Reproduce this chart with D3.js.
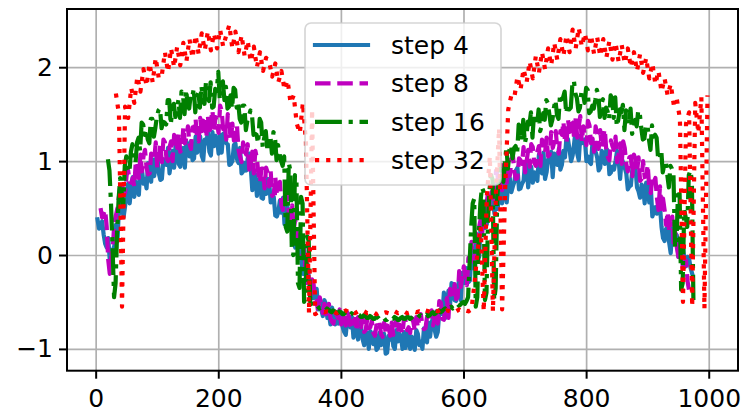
<!DOCTYPE html>
<html>
<head>
<meta charset="utf-8">
<script src="https://cdn.jsdelivr.net/npm/d3@7"></script>
<style>
  body { margin: 0; background: #fff; }
  text { font-family: "DejaVu Sans", sans-serif; fill: #000; }
</style>
</head>
<body>
<div id="chart"></div>
<script>
const chartWidth = 743;
const chartHeight = 412;
const plotLeft = 67, plotRight = 738, plotTop = 9, plotBottom = 370.7;

// DATA (series i is sampled every seriesStep[i], starting at seriesStart[i])
const xTicks = [0, 200, 400, 600, 800, 1000];
const yTicks = [-1, 0, 1, 2];
const seriesNames = ["step 4", "step 8", "step 16", "step 32"];
const seriesStart = [3, 8, 20, 33];
const seriesStep = [2.5, 2.5, 2.5, 5];

const step4Values = [
  0.38, 0.28, 0.30, 0.36, 0.22, 0.12, 0.08, 0.18, -0.05, -0.02, 0.05, 0.10, 0.32, 0.15, 0.50, 0.45, 0.62, 0.40, 0.52, 0.66,
  0.76, 0.55, 0.72, 0.83, 0.62, 0.78, 0.74, 0.64, 0.96, 0.91, 0.76, 0.81, 0.71, 0.98, 0.93, 0.78, 1.02, 0.84, 1.00, 1.07,
  0.87, 0.80, 0.81, 1.02, 1.00, 0.96, 1.14, 0.87, 0.99, 1.11, 0.93, 1.17, 1.14, 0.97, 0.94, 1.09, 1.14, 0.93, 1.21, 1.16,
  1.05, 1.21, 1.01, 1.03, 1.26, 1.09, 1.14, 1.26, 1.06, 1.01, 1.23, 1.19, 1.31, 1.10, 1.06, 1.31, 1.16, 1.27, 1.24, 1.08,
  1.28, 1.09, 1.29, 1.30, 1.19, 1.18, 0.96, 0.97, 1.00, 1.17, 1.19, 1.02, 0.98, 1.14, 0.87, 0.89, 0.98, 0.90, 1.03, 1.08,
  0.93, 0.69, 0.85, 0.86, 0.63, 0.75, 0.82, 0.61, 0.60, 0.80, 0.65, 0.81, 0.79, 0.56, 0.63, 0.62, 0.42, 0.41, 0.46, 0.58,
  0.45, 0.61, 0.33, 0.35, 0.51, 0.34, 0.30, 0.42, 0.13, 0.08, 0.20, 0.16, 0.17, -0.04, -0.20, 0.05, -0.21, -0.10, -0.26, -0.42,
  -0.31, -0.46, -0.44, -0.36, -0.58, -0.47, -0.58, -0.65, -0.48, -0.52, -0.67, -0.63, -0.74, -0.56, -0.63, -0.74, -0.61, -0.73, -0.65, -0.61,
  -0.77, -0.82, -0.85, -0.68, -0.74, -0.77, -0.66, -0.88, -0.82, -0.72, -0.90, -0.71, -0.77, -0.90, -0.96, -0.84, -0.83, -1.00, -0.81, -0.85,
  -0.95, -0.82, -1.01, -0.99, -0.83, -0.96, -0.94, -0.84, -1.05, -1.04, -0.86, -0.90, -0.80, -0.97, -1.00, -0.80, -0.92, -0.84, -0.87, -1.00,
  -0.82, -0.99, -0.88, -0.80, -1.00, -0.87, -0.93, -1.01, -0.80, -0.84, -0.96, -0.92, -1.00, -0.78, -0.81, -0.93, -0.72, -0.87, -0.72, -0.66,
  -0.80, -0.87, -0.82, -0.61, -0.59, -0.63, -0.40, -0.67, -0.50, -0.38, -0.54, -0.30, -0.31, -0.48, -0.49, -0.34, -0.27, -0.48, -0.19, -0.24,
  -0.30, -0.14, -0.29, -0.27, 0.03, -0.14, 0.00, 0.12, 0.03, -0.02, 0.32, 0.28, 0.50, 0.29, 0.33, 0.58, 0.49, 0.60, 0.60, 0.44,
  0.64, 0.49, 0.61, 0.77, 0.55, 0.71, 0.84, 0.56, 0.80, 0.82, 0.67, 0.73, 0.78, 0.90, 0.93, 0.70, 0.71, 0.76, 0.79, 0.99,
  0.95, 0.72, 0.89, 0.94, 0.77, 0.88, 0.87, 0.79, 1.07, 1.03, 0.87, 1.09, 0.81, 0.88, 1.02, 0.99, 1.10, 0.83, 1.08, 1.06,
  0.96, 1.13, 0.91, 0.96, 1.11, 1.04, 1.26, 1.23, 1.12, 1.00, 1.06, 1.19, 1.34, 1.08, 1.01, 1.27, 1.19, 1.21, 1.23, 1.00,
  1.05, 0.99, 0.97, 1.21, 1.19, 1.10, 1.04, 0.90, 0.93, 1.11, 1.07, 0.97, 1.13, 1.11, 0.86, 0.88, 0.94, 0.91, 1.00, 1.11,
  1.02, 0.81, 1.03, 0.98, 0.93, 0.87, 0.70, 0.73, 0.74, 0.92, 0.93, 0.93, 0.72, 0.68, 0.61, 0.75, 0.72, 0.55, 0.77, 0.73,
  0.56, 0.73, 0.41, 0.46, 0.51, 0.44, 0.55, 0.52, 0.30, 0.18, 0.15, 0.28, 0.29, 0.13, 0.02, 0.28, 0.18, 0.20, 0.21, -0.02,
  -0.02, 0.03, 0.08, -0.05, -0.12, -0.02, -0.04, -0.14, -0.20
];

const step8Values = [
  0.50, 0.40, 0.44, 0.48, 0.30, -0.05, -0.20, -0.02, 0.08, 0.35, 0.42, 0.50, 0.62, 0.75, 0.78, 0.65, 0.66, 0.85, 0.90, 0.78,
  0.77, 0.82, 0.73, 1.00, 0.97, 0.82, 1.07, 0.89, 1.05, 1.12, 0.93, 0.86, 0.87, 1.08, 1.06, 1.02, 1.20, 0.93, 1.05, 1.17,
  0.99, 1.23, 1.20, 1.03, 1.00, 1.15, 1.21, 1.00, 1.28, 1.23, 1.14, 1.30, 1.10, 1.12, 1.36, 1.19, 1.25, 1.37, 1.18, 1.13,
  1.36, 1.32, 1.45, 1.24, 1.21, 1.46, 1.32, 1.43, 1.41, 1.25, 1.49, 1.28, 1.43, 1.54, 1.31, 1.47, 1.40, 1.30, 1.59, 1.54,
  1.34, 1.39, 1.23, 1.50, 1.38, 1.23, 1.40, 1.22, 1.31, 1.38, 1.12, 1.05, 0.99, 1.20, 1.11, 1.07, 1.18, 0.91, 0.98, 1.10,
  0.87, 1.11, 1.03, 0.86, 0.77, 0.92, 0.92, 0.71, 0.93, 0.88, 0.73, 0.89, 0.63, 0.65, 0.83, 0.66, 0.66, 0.78, 0.53, 0.48,
  0.62, 0.58, 0.62, 0.41, 0.28, 0.53, 0.27, 0.38, 0.24, 0.08, 0.18, -0.03, -0.03, 0.08, -0.30, -0.14, -0.34, -0.44, -0.26, -0.31,
  -0.52, -0.49, -0.61, -0.45, -0.53, -0.62, -0.52, -0.63, -0.56, -0.52, -0.67, -0.71, -0.73, -0.61, -0.64, -0.67, -0.58, -0.74, -0.69, -0.62,
  -0.75, -0.61, -0.65, -0.75, -0.79, -0.70, -0.68, -0.81, -0.66, -0.69, -0.77, -0.67, -0.82, -0.80, -0.68, -0.78, -0.77, -0.70, -0.83, -0.86,
  -0.75, -0.77, -0.72, -0.84, -0.87, -0.72, -0.82, -0.75, -0.77, -0.86, -0.72, -0.85, -0.76, -0.69, -0.83, -0.74, -0.78, -0.84, -0.67, -0.70,
  -0.80, -0.77, -0.83, -0.67, -0.71, -0.80, -0.66, -0.77, -0.67, -0.63, -0.75, -0.79, -0.78, -0.66, -0.67, -0.70, -0.59, -0.75, -0.67, -0.60,
  -0.73, -0.49, -0.51, -0.68, -0.69, -0.54, -0.46, -0.67, -0.36, -0.41, -0.47, -0.31, -0.47, -0.45, -0.17, -0.34, -0.24, -0.12, -0.27, -0.32,
  -0.03, -0.07, 0.14, -0.07, -0.02, 0.23, 0.19, 0.30, 0.38, 0.22, 0.55, 0.34, 0.57, 0.68, 0.51, 0.67, 0.66, 0.56, 0.90, 0.85,
  0.72, 0.77, 0.69, 0.96, 0.92, 0.77, 1.02, 0.84, 1.00, 1.07, 0.88, 0.81, 0.82, 1.03, 1.01, 0.97, 1.15, 0.88, 1.00, 1.12,
  0.94, 1.18, 1.15, 0.98, 0.95, 1.10, 1.16, 0.95, 1.23, 1.18, 1.09, 1.25, 1.05, 1.07, 1.31, 1.14, 1.20, 1.32, 1.13, 1.08,
  1.32, 1.28, 1.42, 1.21, 1.19, 1.44, 1.31, 1.42, 1.40, 1.24, 1.46, 1.25, 1.37, 1.48, 1.21, 1.37, 1.27, 1.17, 1.43, 1.38,
  1.19, 1.24, 1.10, 1.37, 1.28, 1.13, 1.33, 1.15, 1.27, 1.34, 1.11, 1.04, 1.01, 1.22, 1.16, 1.12, 1.26, 0.99, 1.07, 1.19,
  0.97, 1.21, 1.14, 0.97, 0.89, 1.04, 1.05, 0.84, 1.07, 1.02, 0.88, 1.04, 0.79, 0.81, 1.00, 0.83, 0.84, 0.96, 0.71, 0.66,
  0.82, 0.78, 0.82, 0.61, 0.48, 0.73, 0.49, 0.60, 0.48, 0.32, 0.46, 0.25, 0.30, 0.41, 0.08, 0.24, 0.08, -0.02, 0.16, 0.11,
  -0.18, -0.08, -0.06, -0.28, -0.38
];

const step16Values = [
  1.02, 0.90, 0.55, 0.10, -0.45, -0.30, 0.25, 0.60, 0.82, 0.65, 0.52, 0.95, 1.05, 0.92, 0.88, 1.10, 1.18, 1.02, 0.98, 1.20,
  1.25, 1.11, 1.41, 1.39, 1.28, 1.34, 1.23, 1.19, 1.45, 1.45, 1.26, 1.36, 1.48, 1.54, 1.56, 1.35, 1.42, 1.41, 1.39, 1.65,
  1.65, 1.39, 1.54, 1.61, 1.47, 1.55, 1.65, 1.46, 1.74, 1.70, 1.50, 1.76, 1.61, 1.56, 1.70, 1.68, 1.77, 1.52, 1.70, 1.74,
  1.57, 1.80, 1.66, 1.61, 1.85, 1.67, 1.64, 1.84, 1.57, 1.58, 1.77, 1.75, 1.95, 1.65, 1.80, 1.85, 1.65, 1.79, 1.56, 1.58,
  1.70, 1.56, 1.78, 1.76, 1.57, 1.63, 1.45, 1.41, 1.59, 1.59, 1.33, 1.43, 1.48, 1.54, 1.49, 1.28, 1.29, 1.28, 1.19, 1.45,
  1.41, 1.15, 1.25, 1.32, 1.13, 1.21, 1.27, 1.08, 1.31, 1.26, 1.01, 1.17, 1.07, 1.00, 0.95, 1.05, 0.30, 0.25, 0.98, 0.90,
  0.05, 0.00, 0.85, 0.80, -0.30, -0.35, 0.62, 0.55, -0.50, -0.45, 0.20, 0.15, -0.50, -0.52, -0.55, -0.54, -0.53, -0.55, -0.57, -0.56,
  -0.56, -0.58, -0.59, -0.57, -0.58, -0.60, -0.61, -0.59, -0.60, -0.62, -0.62, -0.60, -0.61, -0.63, -0.63, -0.61, -0.62, -0.64, -0.64, -0.62,
  -0.63, -0.65, -0.65, -0.63, -0.64, -0.66, -0.66, -0.64, -0.65, -0.67, -0.67, -0.65, -0.66, -0.68, -0.68, -0.66, -0.66, -0.68, -0.68, -0.66,
  -0.67, -0.69, -0.69, -0.67, -0.66, -0.68, -0.68, -0.66, -0.67, -0.69, -0.69, -0.67, -0.66, -0.68, -0.68, -0.66, -0.66, -0.68, -0.67, -0.65,
  -0.65, -0.67, -0.67, -0.65, -0.64, -0.66, -0.66, -0.64, -0.63, -0.65, -0.64, -0.62, -0.61, -0.63, -0.62, -0.60, -0.59, -0.61, -0.60, -0.58,
  -0.57, -0.59, -0.58, -0.56, -0.55, -0.57, -0.56, -0.54, -0.52, -0.54, -0.53, -0.51, -0.50, -0.52, -0.49, -0.45, -0.08, 0.30, 0.55, 0.60,
  -0.55, -0.45, 0.20, 0.55, 0.72, 0.68, -0.48, -0.40, 0.38, 0.70, 0.85, 0.80, -0.48, -0.35, 0.62, 0.80, 0.92, 0.85, 0.78, 0.98,
  1.15, 0.92, 1.12, 1.17, 1.03, 1.14, 1.16, 1.08, 1.39, 1.35, 1.22, 1.44, 1.19, 1.26, 1.42, 1.39, 1.52, 1.25, 1.50, 1.48,
  1.38, 1.55, 1.32, 1.37, 1.51, 1.44, 1.65, 1.62, 1.50, 1.38, 1.44, 1.57, 1.65, 1.49, 1.45, 1.71, 1.66, 1.68, 1.74, 1.51,
  1.61, 1.55, 1.57, 1.81, 1.86, 1.72, 1.67, 1.53, 1.57, 1.75, 1.72, 1.62, 1.78, 1.76, 1.51, 1.53, 1.59, 1.56, 1.65, 1.76,
  1.70, 1.47, 1.61, 1.66, 1.46, 1.57, 1.53, 1.45, 1.70, 1.66, 1.46, 1.68, 1.37, 1.44, 1.55, 1.52, 1.60, 1.33, 1.54, 1.52,
  1.39, 1.56, 1.29, 1.34, 1.44, 1.37, 1.54, 1.51, 1.35, 1.23, 1.24, 1.37, 1.39, 1.23, 1.12, 1.38, 1.26, 1.28, 1.25, 1.02,
  1.02, 1.12, 0.88, 0.96, 1.00, 0.85, 0.72, 0.95, 0.92, 0.85, 0.08, 0.15, 0.70, 0.65, -0.37, -0.30, 0.48, 0.40, 0.30, 0.85,
  0.90, 0.80, -0.48
];

const step32Values = [
  1.72, 1.50, -0.55, 1.58, 1.46, 1.78, 1.62, 1.90, 1.74, 1.98,
  1.80, 2.04, 1.84, 2.10, 1.88, 1.92, 2.16, 1.95, 2.20, 2.00,
  2.22, 2.02, 2.26, 2.06, 2.30, 2.10, 2.34, 2.14, 2.36, 2.18,
  2.38, 2.18, 2.36, 2.20, 2.40, 2.22, 2.34, 2.45, 2.20, 2.38,
  2.16, 2.34, 2.12, 2.28, 2.06, 2.22, 2.00, 2.16, 1.96, 2.10,
  2.06, 1.90, 2.04, 1.84, 1.96, 1.76, 1.86, 1.62, 1.70, 1.40,
  1.30, 1.62, 1.20, -0.62, 1.55, -0.63, -0.61, -0.60, -0.61, -0.60,
  -0.61, -0.60, -0.62, -0.60, -0.61, -0.59, -0.61, -0.60, -0.62, -0.60,
  -0.61, -0.60, -0.62, -0.61, -0.61, -0.63, -0.61, -0.62, -0.61, -0.62,
  -0.62, -0.60, -0.62, -0.61, -0.60, -0.62, -0.61, -0.60, -0.61, -0.60,
  -0.61, -0.59, -0.60, -0.61, -0.59, -0.60, -0.58, -0.60, -0.59, -0.60,
  -0.59, -0.60, -0.58, -0.60, -0.59, -0.60, -0.58, -0.30, 0.05, 0.30,
  -0.60, 0.62, 1.05, -0.60, 0.68, 1.35, -0.58, 0.72, 1.55, 1.70,
  1.68, 1.90, 1.76, 1.98, 1.84, 2.06, 1.88, 2.12, 1.94, 2.16,
  1.98, 2.20, 2.02, 2.26, 2.08, 2.30, 2.12, 2.34, 2.16, 2.40,
  2.20, 2.42, 2.22, 2.36, 2.18, 2.34, 2.14, 2.32, 2.12, 2.30,
  2.10, 2.28, 2.08, 2.26, 2.06, 2.24, 2.04, 2.20, 2.00, 2.16,
  1.96, 2.14, 1.94, 2.10, 1.88, 2.04, 1.82, 1.96, 1.74, 1.88,
  1.70, 1.82, 1.60, 1.66, 1.45, -0.50, 1.40, 1.52, -0.55, 1.62,
  1.30, 1.68, -0.57, 1.70
];

const seriesValues = [step4Values, step8Values, step16Values, step32Values];

// STYLE
const lineWidth = 4.2;
const seriesColors = ["#1f77b4", "#bf00bf", "#008000", "#ff0000"];
const seriesDash = [
  null,
  [3.7, 1.6].map(d => d * lineWidth).join(","),
  [6.4, 1.6, 1, 1.6].map(d => d * lineWidth).join(","),
  [1, 1.65].map(d => d * lineWidth).join(",")
];

const series = seriesNames.map((name, i) => ({
  name: name,
  color: seriesColors[i],
  dash: seriesDash[i],
  points: seriesValues[i].map((v, j) => ({ x: seriesStart[i] + j * seriesStep[i], y: v }))
}));

// SCALES
const xScale = d3.scaleLinear()
  .domain([-46.75, 1047.75])
  .range([plotLeft, plotRight]);

const yScale = d3.scaleLinear()
  .domain([-1.232, 2.62])
  .range([plotBottom, plotTop]);

const svg = d3.select("#chart")
  .append("svg")
  .attr("width", chartWidth)
  .attr("height", chartHeight);

// GRID
svg.append("g")
  .attr("transform", "translate(0," + plotBottom + ")")
  .call(d3.axisBottom(xScale).tickValues(xTicks).tickSize(-(plotBottom - plotTop)).tickFormat(""))
  .call(g => g.select(".domain").remove())
  .call(g => g.selectAll("line").attr("stroke", "#b0b0b0").attr("stroke-width", 1.7));

svg.append("g")
  .attr("transform", "translate(" + plotLeft + ",0)")
  .call(d3.axisLeft(yScale).tickValues(yTicks).tickSize(-(plotRight - plotLeft)).tickFormat(""))
  .call(g => g.select(".domain").remove())
  .call(g => g.selectAll("line").attr("stroke", "#b0b0b0").attr("stroke-width", 1.7));

// LINES
const line = d3.line()
  .x(d => xScale(d.x))
  .y(d => yScale(d.y));

svg.selectAll(".series")
  .data(series)
  .enter()
  .append("path")
    .attr("class", "series")
    .attr("d", d => line(d.points))
    .attr("fill", "none")
    .attr("stroke", d => d.color)
    .attr("stroke-width", lineWidth)
    .attr("stroke-linejoin", "round")
    .attr("stroke-linecap", d => d.dash ? "butt" : "square")
    .attr("stroke-dasharray", d => d.dash);

// FRAME
svg.append("rect")
  .attr("x", plotLeft)
  .attr("y", plotTop)
  .attr("width", plotRight - plotLeft)
  .attr("height", plotBottom - plotTop)
  .attr("fill", "none")
  .attr("stroke", "#000")
  .attr("stroke-width", 2);

// AXES
const xAxis = svg.append("g")
  .attr("transform", "translate(0," + plotBottom + ")")
  .call(d3.axisBottom(xScale).tickValues(xTicks).tickSize(8).tickPadding(11)
    .tickFormat(d3.format("d")));

const yAxis = svg.append("g")
  .attr("transform", "translate(" + plotLeft + ",0)")
  .call(d3.axisLeft(yScale).tickValues(yTicks).tickSize(8).tickPadding(6)
    .tickFormat(d => d < 0 ? "\u2212" + Math.abs(d) : d));

[xAxis, yAxis].forEach(g => {
  g.select(".domain").remove();
  g.selectAll("line").attr("stroke", "#000").attr("stroke-width", 2);
  g.selectAll("text")
    .attr("font-family", "DejaVu Sans")
    .attr("font-size", 25)
    .attr("fill", "#000");
});

// LEGEND
const legend = svg.append("g");

legend.append("rect")
  .attr("x", 305)
  .attr("y", 23)
  .attr("width", 196)
  .attr("height", 162)
  .attr("rx", 6)
  .attr("fill", "#fff")
  .attr("fill-opacity", 0.8)
  .attr("stroke", "#cccccc")
  .attr("stroke-opacity", 0.8)
  .attr("stroke-width", 1.7);

const rows = legend.selectAll(".row")
  .data(series)
  .enter()
  .append("g")
    .attr("class", "row")
    .attr("transform", (d, i) => "translate(0," + (45 + i * 38.4) + ")");

rows.append("line")
  .attr("x1", 315)
  .attr("x2", 368)
  .attr("stroke", d => d.color)
  .attr("stroke-width", lineWidth)
  .attr("stroke-linecap", d => d.dash ? "butt" : "square")
  .attr("stroke-dasharray", d => d.dash);

rows.append("text")
  .attr("x", 391)
  .attr("dy", "0.36em")
  .attr("font-size", 25)
  .text(d => d.name);
</script>
</body>
</html>
